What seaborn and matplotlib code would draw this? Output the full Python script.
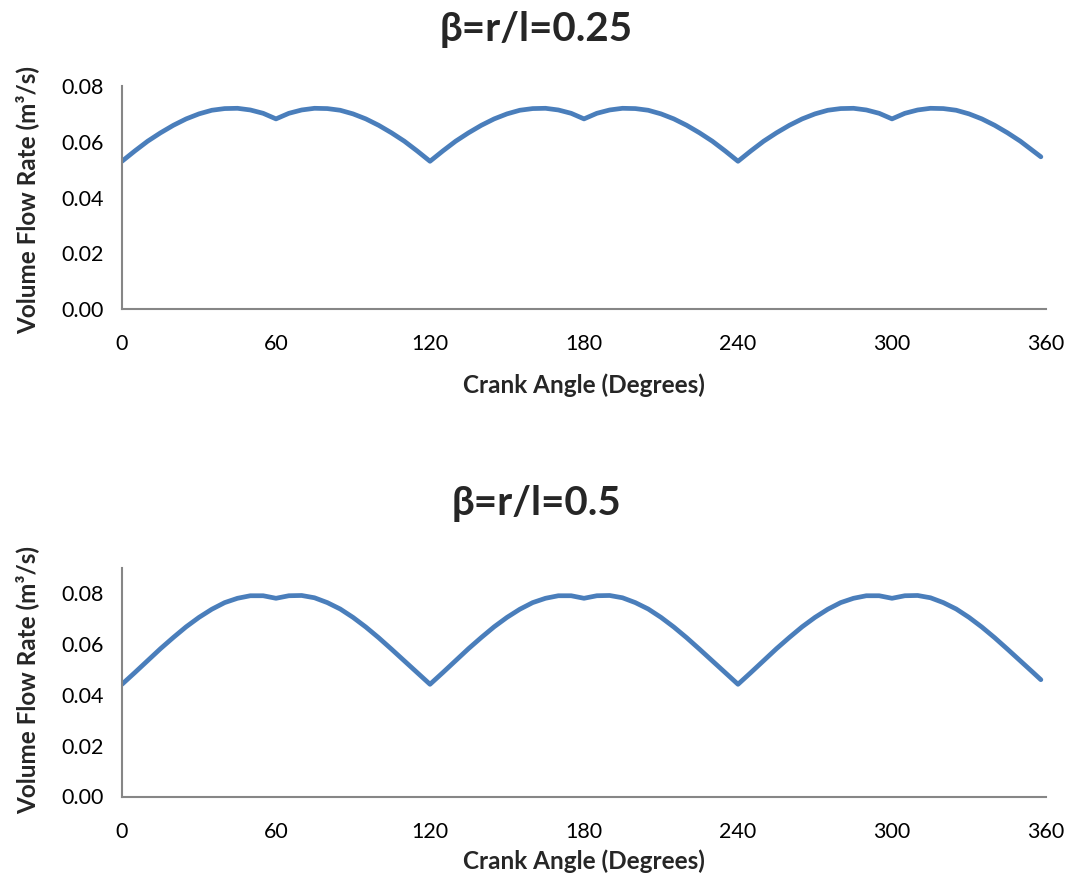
import matplotlib
matplotlib.use("Agg")
import matplotlib.pyplot as plt
import seaborn as sns
import pandas as pd

# ---- data ----
crank_angle = list(range(0, 360, 5)) + [358]

flow_beta_025 = [
    0.0530, 0.0567, 0.0602, 0.0632, 0.0659, 0.0682, 0.0700, 0.0713, 0.0719, 0.0720, 0.0714, 0.0702,
    0.0682, 0.0702, 0.0714, 0.0720, 0.0719, 0.0713, 0.0700, 0.0682, 0.0659, 0.0632, 0.0602, 0.0567,
    0.0530, 0.0567, 0.0602, 0.0632, 0.0659, 0.0682, 0.0700, 0.0713, 0.0719, 0.0720, 0.0714, 0.0702,
    0.0682, 0.0702, 0.0714, 0.0720, 0.0719, 0.0713, 0.0700, 0.0682, 0.0659, 0.0632, 0.0602, 0.0567,
    0.0530, 0.0567, 0.0602, 0.0632, 0.0659, 0.0682, 0.0700, 0.0713, 0.0719, 0.0720, 0.0714, 0.0702,
    0.0682, 0.0702, 0.0714, 0.0720, 0.0719, 0.0713, 0.0700, 0.0682, 0.0659, 0.0632, 0.0602, 0.0567,
    0.0546,
]

flow_beta_05 = [
    0.0441, 0.0487, 0.0534, 0.0581, 0.0625, 0.0667, 0.0704, 0.0736, 0.0762, 0.0779, 0.0789, 0.0789,
    0.0779, 0.0789, 0.0790, 0.0781, 0.0762, 0.0737, 0.0704, 0.0666, 0.0624, 0.0579, 0.0533, 0.0487,
    0.0441, 0.0487, 0.0534, 0.0581, 0.0625, 0.0667, 0.0704, 0.0736, 0.0762, 0.0779, 0.0789, 0.0789,
    0.0779, 0.0789, 0.0790, 0.0781, 0.0762, 0.0737, 0.0704, 0.0666, 0.0624, 0.0579, 0.0533, 0.0487,
    0.0441, 0.0487, 0.0534, 0.0581, 0.0625, 0.0667, 0.0704, 0.0736, 0.0762, 0.0779, 0.0789, 0.0789,
    0.0779, 0.0789, 0.0790, 0.0781, 0.0762, 0.0737, 0.0704, 0.0666, 0.0624, 0.0579, 0.0533, 0.0487,
    0.0459,
]

x_ticks = [0, 60, 120, 180, 240, 300, 360]
y_ticks = [0.00, 0.02, 0.04, 0.06, 0.08]
titles = ["β=r/l=0.25", "β=r/l=0.5"]
x_label = "Crank Angle (Degrees)"
y_label = "Volume Flow Rate (m³/s)"

# ---- style ----
sns.set_theme(style="white")
plt.rcParams["font.family"] = ["Lato", "DejaVu Sans"]

LINE = "#4A7EBB"
SPINE = "#868686"

fig = plt.figure(figsize=(10.78, 8.81), dpi=100)
W, H = 1078, 881

panels = [
    dict(left=122, right=1046, top=86, bottom=309, ymax=0.08, title_y=30, xlab_y=385,
         ylab_y=200, series=flow_beta_025, title=titles[0]),
    dict(left=122, right=1046, top=567.5, bottom=796.5, ymax=0.09, title_y=503, xlab_y=861,
         ylab_y=680, series=flow_beta_05, title=titles[1]),
]

for p in panels:
    ax = fig.add_axes([p["left"] / W, 1 - p["bottom"] / H,
                       (p["right"] - p["left"]) / W, (p["bottom"] - p["top"]) / H])
    df = pd.DataFrame({"angle": crank_angle, "flow": p["series"]})
    sns.lineplot(data=df, x="angle", y="flow", ax=ax, color=LINE, linewidth=3.4)
    for ln in ax.lines:
        ln.set_solid_capstyle("round")
        ln.set_solid_joinstyle("round")
    ax.set_xlim(0, 360)
    ax.set_ylim(0, p["ymax"])
    ax.set_xticks(x_ticks)
    ax.set_xticklabels([str(v) for v in x_ticks])
    ax.set_yticks(y_ticks)
    ax.set_yticklabels([f"{v:.2f}" for v in y_ticks])
    ax.tick_params(axis="both", length=0, labelsize=15.5, colors="black")
    ax.tick_params(axis="x", pad=18)
    ax.tick_params(axis="y", pad=13)
    for s in ["top", "right"]:
        ax.spines[s].set_visible(False)
    for s in ["left", "bottom"]:
        ax.spines[s].set_color(SPINE)
        ax.spines[s].set_linewidth(1.5)
    ax.set_xlabel("")
    ax.set_ylabel("")
    ax.grid(False)

    fig.text(536 / W, 1 - p["title_y"] / H, p["title"], ha="center", va="center",
             fontsize=29, fontweight="bold")
    fig.text(584 / W, 1 - p["xlab_y"] / H, x_label, ha="center", va="center",
             fontsize=17.5, fontweight="bold")
    fig.text(27 / W, 1 - p["ylab_y"] / H, y_label, ha="center", va="center",
             rotation=90, fontsize=17.5, fontweight="bold")

fig.savefig("out.png", dpi=100)
